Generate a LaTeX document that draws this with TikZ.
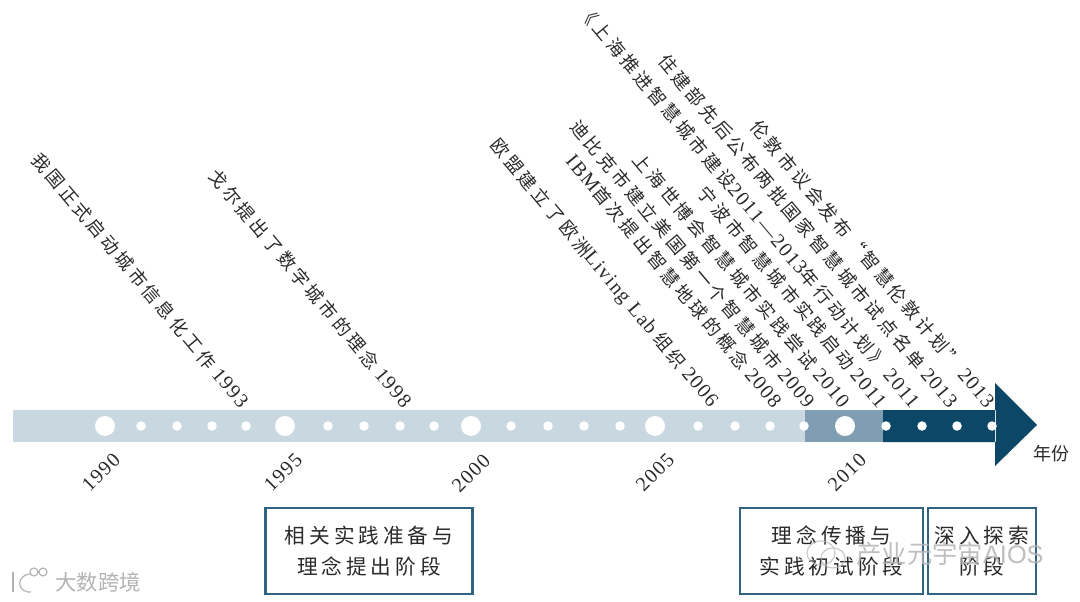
\documentclass[tikz,border=0pt]{standalone}
\usepackage{fontspec}
\usepackage{xcolor}
\setmainfont{Liberation Serif}
\newfontfamily\cnfont[LetterSpace=19]{Noto Sans CJK SC}
\newfontfamily\cnplain{Noto Sans CJK SC}
\newfontfamily\enfont[LetterSpace=7,Scale=1.12]{Liberation Serif}
\newfontfamily\wmfont{Liberation Sans}
\definecolor{barlight}{HTML}{C9D7E0}
\definecolor{barmid}{HTML}{7F9DB3}
\definecolor{bardark}{HTML}{0C4767}
\definecolor{boxline}{HTML}{2F6480}
\definecolor{textdark}{HTML}{2A2A2A}
\definecolor{wmgray}{HTML}{B4B4B4}
\newcommand{\gap}{\hspace{0.3em}}

\begin{document}
\begin{tikzpicture}[
  x=0.75pt,y=-0.75pt,
  evt/.style={rotate=-50,anchor=east,inner sep=0pt,text=textdark,font=\fontsize{13.5}{16}\selectfont},
  yr/.style={rotate=45,inner sep=0pt,text=textdark,font=\fontsize{13.5}{16}\selectfont\enfont},
  big/.style={circle,fill=white,inner sep=0pt,minimum size=20*0.75pt},
  small/.style={circle,fill=white,inner sep=0pt,minimum size=9.5*0.75pt},
  stage/.style={draw=boxline,line width=1.6pt,fill=white,inner sep=0pt,align=center,text=textdark,font=\fontsize{15.5}{23}\selectfont\cnfont},
  wm/.style={inner sep=0pt,text=wmgray},
  wmline/.style={draw=wmgray,line width=0.9pt},
]
\useasboundingbox (0,0) rectangle (1080,602);
\fill[white] (0,0) rectangle (1080,602);
% bar and arrow
\fill[barlight] (13,410) rectangle (805,442);
\fill[barmid] (805,410) rectangle (883,442);
\fill[bardark] (883,410) rectangle (996,442) (995,383) -- (1037,425) -- (995,466) -- cycle;
% big dots
\node[big] (d1990) at (105,426) {};
\node[big] (d1995) at (285,426) {};
\node[big] (d2000) at (471,426) {};
\node[big] (d2005) at (655,426) {};
\node[big] (d2010) at (845,426) {};
% small dots
\node[small] (d1991) at (141,426) {};
\node[small] (d1992) at (177,426) {};
\node[small] (d1993) at (212,426) {};
\node[small] (d1994) at (246,426) {};
\node[small] (d1996) at (328,426) {};
\node[small] (d1997) at (364,426) {};
\node[small] (d1998) at (400,426) {};
\node[small] (d1999) at (434,426) {};
\node[small] (d2001) at (511,426) {};
\node[small] (d2002) at (548,426) {};
\node[small] (d2003) at (584,426) {};
\node[small] (d2004) at (620,426) {};
\node[small] (d2006) at (698,426) {};
\node[small] (d2007) at (735,426) {};
\node[small] (d2008) at (770,426) {};
\node[small] (d2009) at (804,426) {};
\node[small] (d2011) at (886,426) {};
\node[small] (d2012) at (922,426) {};
\node[small] (d2013) at (957,426) {};
\node[small] (d2014) at (992,426) {};
% years below the bar
\node[yr] (y1990) at (101,472) {1990};
\node[yr] (y1995) at (283,472) {1995};
\node[yr] (y2000) at (471,473) {2000};
\node[yr] (y2005) at (655,472) {2005};
\node[yr] (y2010) at (847,472) {2010};
\node[inner sep=0pt,text=textdark,font=\fontsize{13.5}{15}\selectfont\cnplain] (unit) at (1051,454) {年份};
% events
\node[evt] (e1993) at (245,405) {{\cnfont 我国正式启动城市信息化工作}\gap{\enfont 1993}};
\node[evt] (e1998) at (408,405) {{\cnfont 戈尔提出了数字城市的理念}\gap{\enfont 1998}};
\node[evt] (e2006) at (714,405) {{\cnfont 欧盟建立了欧洲}{\enfont Living Lab}\gap{\cnfont 组织}\gap{\enfont 2006}};
\node[evt] (e2008) at (778,405) {{\enfont IBM}{\cnfont 首次提出智慧地球的概念}\gap{\enfont 2008}};
\node[evt] (e2009) at (811,405) {{\cnfont 迪比克市建立美国第一个智慧城市}\gap{\enfont 2009}};
\node[evt] (e2010) at (846,405) {{\cnfont 上海世博会智慧城市实践尝试}\gap{\enfont 2010}};
\node[evt] (e2011a) at (883,405) {{\cnfont 宁波市智慧城市实践启动}\gap{\enfont 2011}};
\node[evt] (e2011b) at (916,405) {{\cnfont 《上海推进智慧城市建设}{\enfont 2011—2013}{\cnfont 年行动计划》}\gap{\enfont 2011}};
\node[evt] (e2013a) at (954,405) {{\cnfont 住建部先后公布两批国家智慧城市试点名单}\gap{\enfont 2013}};
\node[evt] (e2013b) at (991,405) {{\cnfont 伦敦市议会发布“智慧伦敦计划”}\gap{\enfont 2013}};
% stages
\node[stage,minimum width=207*0.75pt,minimum height=86*0.75pt] (s1) at (369,551) {相关实践准备与\\理念提出阶段};
\node[stage,minimum width=183*0.75pt,minimum height=86*0.75pt] (s2) at (831.5,551) {理念传播与\\实践初试阶段};
\node[stage,minimum width=108*0.75pt,minimum height=86*0.75pt] (s3) at (982,551) {深入探索\\阶段};
% watermarks
\node[wm,font=\fontsize{16}{18}\selectfont\cnplain] (w1) at (98,582) {大数跨境};
\draw[wmline] (13,572) -- (13,592);
\draw[wmline] (31,574) .. controls (16,574) and (16,593) .. (31,592);
\draw[wmline] (34,572) circle (4) (43,572) circle (4);
\node[wm,opacity=0.85,font=\fontsize{19}{21}\selectfont\cnplain] (w2) at (950,554) {产业元宇宙{\wmfont AIOS}};
\draw[wmline,opacity=0.7] (821,553) ellipse (14 and 12) (833,558) ellipse (12 and 10);
\end{tikzpicture}
\end{document}
